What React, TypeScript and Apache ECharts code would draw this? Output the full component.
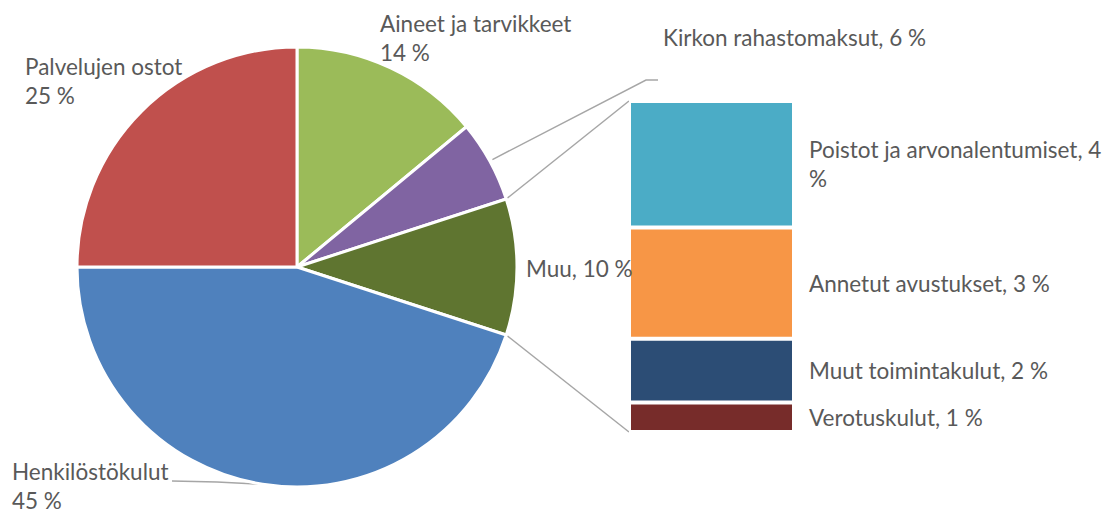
import React, { useEffect, useRef } from "react";
import * as echarts from "echarts";

// ---- data ----
const pieNames = ["Aineet ja tarvikkeet", "Kirkon rahastomaksut", "Muu", "Henkilöstökulut", "Palvelujen ostot"];
const pieValues = [14, 6, 10, 45, 25];
const pieColors = ["#9BBB59", "#8064A2", "#5F7530", "#4F81BD", "#C0504D"];

const barNames = ["Poistot ja arvonalentumiset", "Annetut avustukset", "Muut toimintakulut", "Verotuskulut"];
const barValues = [3.82, 3.36, 1.93, 0.89];
const barPercents = [4, 3, 2, 1];
const barColors = ["#4BACC6", "#F79646", "#2C4D75", "#772C2A"];

// ---- layout ----
const FONT = "Lato";
const FONT_SIZE = 22.5;
const LINE_H = 29;
const TEXT_COLOR = "#595959";
const LINE_COLOR = "#A6A6A6";
const CX = 297;
const CY = 267;
const R = 220;
const GRID_LEFT = 629;
const GRID_TOP = 101;
const GRID_W = 165;
const GRID_H = 331;

// label anchor positions (left edge, vertical middle)
const pieLabelPos: Record<string, [number, number]> = {
  "Aineet ja tarvikkeet": [380, 38],
  "Kirkon rahastomaksut": [663, 37],
  "Muu": [526, 268],
  "Henkilöstökulut": [12, 486],
  "Palvelujen ostot": [25, 81],
};

function piePoint(angleDeg: number, r: number): [number, number] {
  const a = (angleDeg * Math.PI) / 180;
  return [CX + r * Math.sin(a), CY - r * Math.cos(a)];
}

export default function App() {
  const ref = useRef<HTMLDivElement>(null);
  useEffect(() => {
    document.body.style.margin = "0";
    if (!ref.current) return;
    const chart = echarts.init(ref.current, undefined, { renderer: "svg" });

    const total = pieValues.reduce((a, b) => a + b, 0);
    const starts: number[] = [];
    let acc = 0;
    pieValues.forEach((v) => {
      starts.push((acc / total) * 360);
      acc += v;
    });
    const angleOf = (i: number) => starts[i];
    const endOf = (i: number) => starts[i] + (pieValues[i] / total) * 360;
    const midOf = (i: number) => (angleOf(i) + endOf(i)) / 2;
    const muuIdx = pieNames.indexOf("Muu");
    const kirkIdx = pieNames.indexOf("Kirkon rahastomaksut");
    const henkIdx = pieNames.indexOf("Henkilöstökulut");

    const muuTop = piePoint(angleOf(muuIdx), R);
    const muuBot = piePoint(endOf(muuIdx), R);
    const kirkP = piePoint(midOf(kirkIdx), R + 3);
    const henkP = piePoint(midOf(henkIdx), R);

    const textStyle = { fontFamily: FONT, fontSize: FONT_SIZE, color: TEXT_COLOR, lineHeight: LINE_H };

    const barSeries = barNames
      .map((name, i) => ({
        name,
        type: "bar",
        stack: "muu",
        barWidth: "100%",
        data: [barValues[i]],
        itemStyle: { color: barColors[i], borderColor: "#fff", borderWidth: 2 },
        label: {
          show: true,
          position: "right",
          distance: 15,
          ...textStyle,
          formatter: () =>
            i === 0 ? `${name}, ${barPercents[i]}\n%` : `${name}, ${barPercents[i]} %`,
        },
      }))
      .reverse();

    chart.setOption({
      animation: false,
      grid: { left: GRID_LEFT, top: GRID_TOP, width: GRID_W, height: GRID_H },
      xAxis: { type: "category", data: ["Muu"], show: false },
      yAxis: {
        type: "value",
        min: 0,
        max: barValues.reduce((a, b) => a + b, 0),
        show: false,
      },
      series: [
        {
          type: "pie",
          center: [CX, CY],
          radius: R,
          startAngle: 90,
          clockwise: true,
          data: pieNames.map((name, i) => ({
            name,
            value: pieValues[i],
            itemStyle: { color: pieColors[i] },
          })),
          itemStyle: { borderColor: "#fff", borderWidth: 3 },
          label: {
            show: true,
            position: "outside",
            overflow: "none",
            bleedMargin: 0,
            ...textStyle,
            formatter: (p: any) =>
              p.name === "Kirkon rahastomaksut" || p.name === "Muu"
                ? `${p.name}, ${p.value} %`
                : `${p.name}\n${p.value} %`,
          },
          labelLine: { show: false },
          labelLayout: (p: any) => {
            const name = pieNames[p.dataIndex];
            const pos = pieLabelPos[name];
            return { x: pos[0], y: pos[1], align: "left", verticalAlign: "middle" };
          },
        },
        ...barSeries,
      ],
      graphic: [
        {
          type: "line",
          shape: { x1: muuTop[0], y1: muuTop[1], x2: GRID_LEFT, y2: GRID_TOP },
          style: { stroke: LINE_COLOR, lineWidth: 1.5 },
        },
        {
          type: "line",
          shape: { x1: muuBot[0], y1: muuBot[1], x2: GRID_LEFT, y2: GRID_TOP + GRID_H },
          style: { stroke: LINE_COLOR, lineWidth: 1.5 },
        },
        {
          type: "polyline",
          shape: { points: [kirkP, [646, 80], [658, 80]] },
          style: { stroke: LINE_COLOR, lineWidth: 1.5, fill: null },
        },
        {
          type: "polyline",
          shape: { points: [henkP, [217, 482], [172, 481]] },
          style: { stroke: LINE_COLOR, lineWidth: 1.5, fill: null },
        },
      ],
    });
    return () => chart.dispose();
  }, []);
  return <div ref={ref} style={{ width: 1107, height: 515 }} />;
}
